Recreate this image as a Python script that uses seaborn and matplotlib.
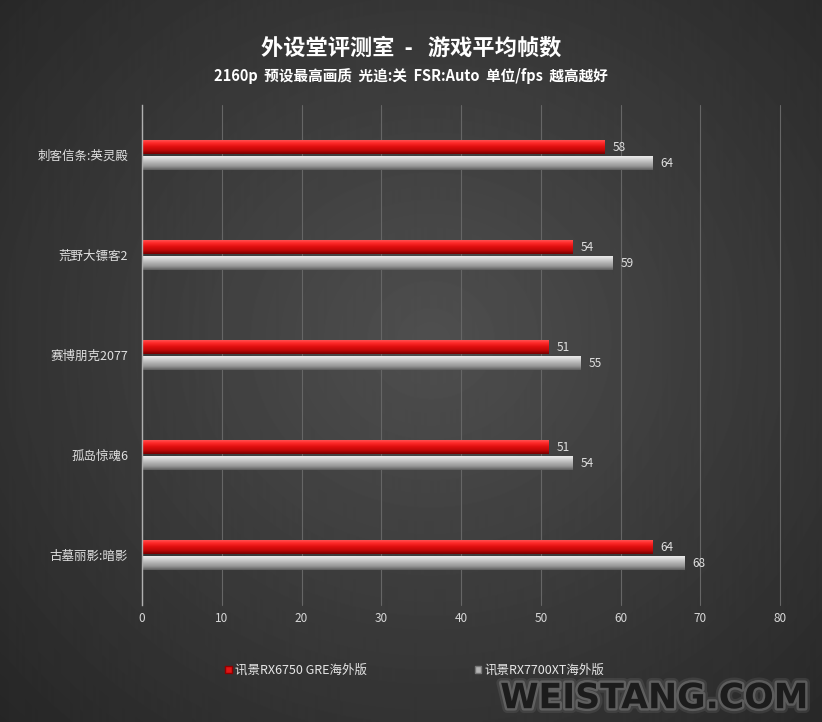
import numpy as np
import pandas as pd
import matplotlib
matplotlib.use("Agg")
import matplotlib.pyplot as plt
import matplotlib.patheffects as pe
from matplotlib.colors import LinearSegmentedColormap
from matplotlib.patches import Patch
import seaborn as sns

games = ["刺客信条:英灵殿", "荒野大镖客2", "赛博朋克2077", "孤岛惊魂6", "古墓丽影:暗影"]
cards = ["讯景RX6750 GRE海外版", "讯景RX7700XT海外版"]
fps_6750 = [58, 54, 51, 51, 64]
fps_7700 = [64, 59, 55, 54, 68]
x_ticks = [0, 10, 20, 30, 40, 50, 60, 70, 80]

title = "外设堂评测室  -   游戏平均帧数"
subtitle = "2160p  预设最高画质  光追:关  FSR:Auto  单位/fps  越高越好"

df = pd.DataFrame({
    "game": games * 2,
    "card": [cards[0]] * len(games) + [cards[1]] * len(games),
    "fps": fps_6750 + fps_7700,
})

sns.set_theme(style="dark")
plt.rcParams["font.family"] = ["Noto Sans CJK SC", "DejaVu Sans"]

fig = plt.figure(figsize=(8.22, 7.22), dpi=100)

# radial background
bg = fig.add_axes([0, 0, 1, 1], zorder=-10)
yy, xx = np.mgrid[0:722, 0:822]
d = np.sqrt(((xx - 430) / 560.0) ** 2 + ((yy - 340) / 520.0) ** 2)
shade = np.clip(0.31 - 0.15 * d, 0.15, 0.31)
bg.imshow(shade, cmap="gray", vmin=0, vmax=1, aspect="auto", extent=[0, 1, 0, 1])
bg.set_axis_off()

ax = fig.add_axes([0.1727, 0.162, 0.7765, 0.6925])
ax.set_facecolor("none")

palette = {cards[0]: "#e01515", cards[1]: "#b4b4b4"}
sns.barplot(data=df, y="game", x="fps", hue="card", order=games, hue_order=cards,
            palette=palette, width=0.32, gap=0.12, orient="h", ax=ax,
            legend=False, edgecolor="none", saturation=1)

# 3D-ish gradient on every bar
red_grad = ["#ff6060", "#ff2a2a", "#e21010", "#c00808", "#7a0000"]
gray_grad = ["#f2f2f2", "#d6d6d6", "#b4b4b4", "#969696", "#5e5e5e"]
cmaps = [LinearSegmentedColormap.from_list("r", red_grad),
         LinearSegmentedColormap.from_list("g", gray_grad)]
grad = np.linspace(0, 1, 64).reshape(-1, 1)
n = len(games)
for i, bar in enumerate(list(ax.patches)):
    x0, y0 = bar.get_x(), bar.get_y()
    w, h = bar.get_width(), bar.get_height()
    cm = cmaps[0] if i < n else cmaps[1]
    im = ax.imshow(grad, cmap=cm, aspect="auto", extent=[x0, x0 + w, y0 + h, y0],
                   zorder=bar.get_zorder() + 0.1)
    im.set_clip_path(bar)
    ax.text(x0 + w + 1.0, y0 + h / 2, f"{int(w)}", va="center", ha="left",
            fontsize=8.5, color="#e0e0e0", zorder=5)

ax.set_xlim(0, 80)
ax.set_xticks(x_ticks)
ax.set_ylim(len(games) - 0.5, -0.5)
ax.set_xlabel("")
ax.set_ylabel("")
ax.grid(axis="x", color="#666666", linewidth=0.8)
ax.grid(axis="y", visible=False)
for gl in ax.get_xgridlines():
    gl.set_clip_on(False)
for s in ["top", "right", "bottom"]:
    ax.spines[s].set_visible(False)
ax.spines["left"].set_color("#b0b0b0")
ax.spines["left"].set_linewidth(1.0)
ax.tick_params(axis="x", length=0, pad=5, labelsize=8.5, labelcolor="#d8d8d8")
ax.tick_params(axis="y", length=0, pad=10, labelsize=9, labelcolor="#e0e0e0")

fig.text(0.5, 0.933, title, ha="center", va="center", fontsize=16,
         fontweight="bold", color="white")
fig.text(0.5, 0.895, subtitle, ha="center", va="center", fontsize=10.5,
         fontweight="bold", color="white")

# legend
handles = [Patch(facecolor="#e01515", edgecolor="#900000"),
           Patch(facecolor="#b4b4b4", edgecolor="#777777")]
fig.legend(handles, cards, loc="center", bbox_to_anchor=(0.505, 0.072), ncol=2,
           frameon=False, fontsize=9, labelcolor="#e6e6e6", handlelength=0.5,
           handleheight=0.5, handletextpad=0.3, columnspacing=8.6)

# watermark
fig.text(0.984, 0.033, "WEISTANG.COM", ha="right", va="center", fontsize=25,
         fontweight="bold", color="#1c1c1c", family="DejaVu Sans",
         path_effects=[pe.Stroke(linewidth=7, foreground="#8a8a8a", alpha=0.18),
                       pe.Stroke(linewidth=3.5, foreground="#9a9a9a", alpha=0.35),
                       pe.Normal()])

fig.savefig("out.png", dpi=100)
